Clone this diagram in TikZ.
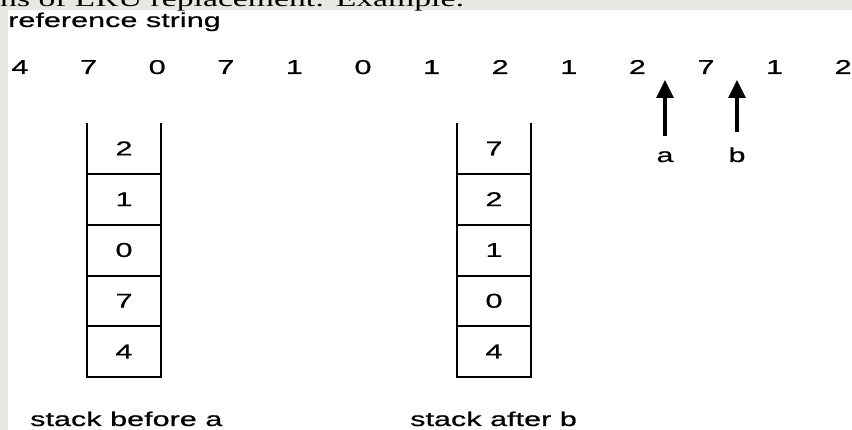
\documentclass[tikz,border=0pt]{standalone}
\usepackage{fontspec}
\setmainfont{Liberation Sans}[FakeStretch=1.53,FakeBold=0.6]
\newfontfamily\titlefont{Liberation Serif}[FakeStretch=1.53]
\usetikzlibrary{positioning,arrows.meta}
\definecolor{framegray}{RGB}{232,232,226}

\begin{document}
\begin{tikzpicture}[
    x=1pt, y=-1pt,
    font=\fontsize{20}{24}\selectfont,
    digit/.style={anchor=base, inner sep=0pt},
    cell/.style={minimum width=74pt, minimum height=50.8pt, inner sep=0pt},
    wall/.style={line width=2pt},
    pointer/.style={-{Triangle[length=18pt,width=17pt]}, line width=3.4pt},
    caption/.style={anchor=base west, inner sep=0pt}
]
\useasboundingbox (0,0) rectangle (852,430);
\fill[white] (0,0) rectangle (852,430);
\fill[framegray] (0,0) rectangle (852,10.5);
\fill[framegray] (0,0) rectangle (8,430);

% title line, cut off by the top edge
\begin{scope}
  \clip (0,0) rectangle (852,10.5);
  \node[caption, font=\titlefont\fontsize{22}{24}\selectfont] (title) at (0,7)
    {ns of LRU replacement: Example:};
\end{scope}

\node[caption] (refstr) at (8,27) {reference string};

% the reference string
\foreach \d [count=\i] in {4,7,0,7,1,0,1,2,1,2,7,1,2}
  \node[digit] (r\i) at ({20+68.6*(\i-1)},74) {\d};

% pointers a and b
\coordinate (tipa) at (665,80);
\coordinate (tipb) at (737,80);
\node[digit] (a) at (665,162) {a};
\node[digit] (b) at (737,162) {b};
\draw[pointer] ([yshift=15pt]a.north) -- (tipa);
\draw[pointer] ([yshift=15pt]b.north) -- (tipb);

% stack before a
\foreach \v [count=\i] in {2,1,0,7,4}
  \node[cell] (s\i) at (124,{148.4+50.8*(\i-1)}) {\v};
\draw[wall] (s1.north west) -- (s5.south west) -- (s5.south east) -- (s1.north east);
\foreach \i in {1,...,4}
  \draw[wall] (s\i.south west) -- (s\i.south east);

% stack after b
\foreach \v [count=\i] in {7,2,1,0,4}
  \node[cell] (t\i) at (494,{148.4+50.8*(\i-1)}) {\v};
\draw[wall] (t1.north west) -- (t5.south west) -- (t5.south east) -- (t1.north east);
\foreach \i in {1,...,4}
  \draw[wall] (t\i.south west) -- (t\i.south east);

\node[caption] (before) at (30,426) {stack before a};
\node[caption] (after) at (410,426) {stack after b};

\end{tikzpicture}
\end{document}
